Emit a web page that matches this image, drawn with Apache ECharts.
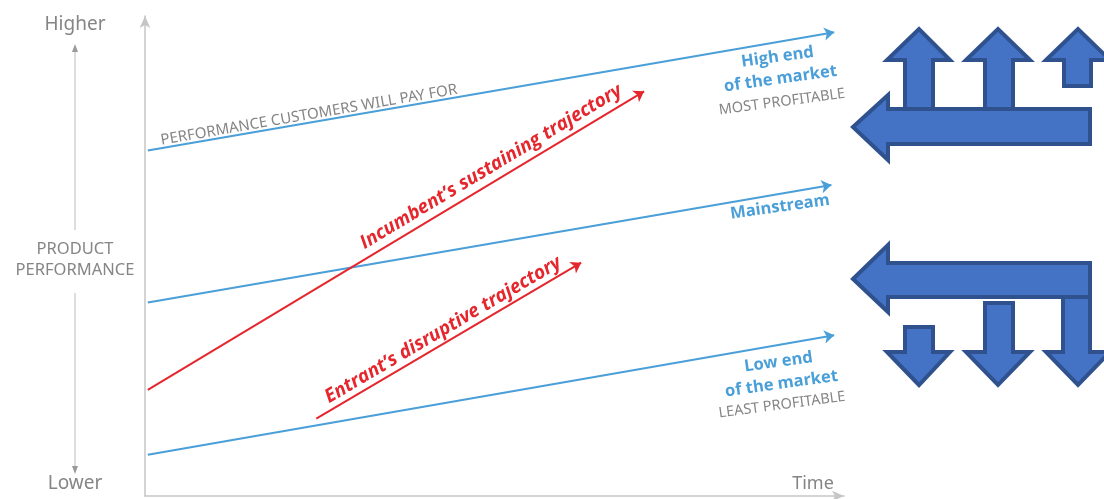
<!DOCTYPE html>
<html><head><meta charset="utf-8">
<script src="https://cdn.jsdelivr.net/npm/echarts@6/dist/echarts.min.js"></script>
<style>html,body{margin:0;padding:0;background:#fff}#c{width:1104px;height:499px}</style>
</head><body><div id="c"></div>
<script>
// Trajectories: [start x, start y, end x, end y] in chart units (0-100 time, 0-100 performance)
const blueNames = ['Performance customers will pay for', 'Mainstream', 'Low end'];
const blueStart = [[0.4, 72.0], [0.4, 40.3], [0.4, 8.6]];
const blueEnd   = [[98.6, 96.6], [98.2, 64.8], [98.6, 33.5]];
const redNames  = ['Incumbent sustaining', 'Entrant disruptive'];
const redStart  = [[0.4, 22.1], [24.5, 16.1]];
const redEnd    = [[71.4, 84.3], [62.4, 48.6]];

const BLUE = '#4a9fd8', RED = '#e5262c', GRAY = '#858585', AXIS = '#c6c6c6';
const FILL = '#4472c4', EDGE = '#2f528f';

function linesData(s, e, names) {
  return s.map((p, i) => ({ name: names[i], coords: [p, e[i]] }));
}
function txt(text, x, y, deg, font, color, lh) {
  return { type: 'text', x: x, y: y, rotation: deg * Math.PI / 180, z: 10,
    style: { text: text, x: 0, y: 0, font: font, fill: color, align: 'center', verticalAlign: 'middle', lineHeight: lh || 20 } };
}
function poly(pts, z) {
  return { type: 'polygon', z: z, shape: { points: pts },
    style: { fill: FILL, stroke: EDGE, lineWidth: 4, lineJoin: 'miter' } };
}

const chart = echarts.init(document.getElementById('c'));
const axisCommon = {
  type: 'value', min: 0, max: 100,
  axisLine: { show: true, onZero: false, symbol: ['none', 'arrow'], symbolSize: [8, 12],
              lineStyle: { color: AXIS, width: 1.5 } },
  axisTick: { show: false }, axisLabel: { show: false }, splitLine: { show: false }
};
chart.setOption({
  animation: false,
  backgroundColor: '#fff',
  grid: { left: 145, top: 16, width: 699, height: 480 },
  xAxis: axisCommon,
  yAxis: axisCommon,
  series: [
    { type: 'lines', coordinateSystem: 'cartesian2d', data: linesData(blueStart, blueEnd, blueNames),
      symbol: ['none', 'arrow'], symbolSize: 10, lineStyle: { color: BLUE, width: 2, opacity: 1 }, z: 3 },
    { type: 'lines', coordinateSystem: 'cartesian2d', data: linesData(redStart, redEnd, redNames),
      symbol: ['none', 'arrow'], symbolSize: 10, lineStyle: { color: RED, width: 2, opacity: 1 }, z: 4 }
  ],
  graphic: [
    // left guide
    txt('Higher', 75, 25, 0, '19px "Noto Sans"', GRAY),
    { type: 'line', shape: { x1: 75, y1: 50, x2: 75, y2: 230 }, style: { stroke: AXIS, lineWidth: 1.2 } },
    { type: 'polygon', shape: { points: [[72, 52], [78, 52], [75, 44]] }, style: { fill: '#9a9a9a' } },
    txt('PRODUCT\nPERFORMANCE', 75, 260, 0, '16.5px "Noto Sans"', GRAY, 21),
    { type: 'line', shape: { x1: 75, y1: 293, x2: 75, y2: 468 }, style: { stroke: AXIS, lineWidth: 1.2 } },
    { type: 'polygon', shape: { points: [[72, 466], [78, 466], [75, 474]] }, style: { fill: '#9a9a9a' } },
    txt('Lower', 75, 484, 0, '19px "Noto Sans"', GRAY),
    txt('Time', 813, 484, 0, '18px "Noto Sans"', GRAY),
    // line labels
    txt('PERFORMANCE CUSTOMERS WILL PAY FOR', 309, 115, 9.8, '15px "Noto Sans"', GRAY),
    txt('Incumbent\u2019s sustaining trajectory', 491, 167, 31, 'italic bold 19px "Open Sans"', RED),
    txt('Entrant\u2019s disruptive trajectory', 443, 330, 30.5, 'italic bold 19px "Open Sans"', RED),
    txt('High end\nof the market', 779, 68, 8, 'bold 16.5px "Open Sans"', BLUE, 22),
    txt('MOST PROFITABLE', 782, 102, 7.5, '14.5px "Noto Sans"', GRAY),
    txt('Mainstream', 780, 207, 8, 'bold 16.5px "Open Sans"', BLUE),
    txt('Low end\nof the market', 780, 373, 8, 'bold 16.5px "Open Sans"', BLUE, 22),
    txt('LEAST PROFITABLE', 782, 405, 7.5, '14.5px "Noto Sans"', GRAY),
    // upper block arrows
    poly([[905, 112], [905, 60], [887, 60], [919, 29], [950, 60], [933, 60], [933, 112]], 20),
    poly([[985, 112], [985, 60], [966, 60], [998, 29], [1030, 60], [1013, 60], [1013, 112]], 20),
    poly([[1064, 86], [1064, 60], [1046, 60], [1078, 29], [1110, 60], [1091, 60], [1091, 86]], 20),
    poly([[853, 127], [888, 95], [888, 109], [1090, 109], [1090, 144], [888, 144], [888, 160]], 21),
    // lower block arrows
    poly([[1063, 280], [1063, 352], [1046, 352], [1078, 385], [1110, 352], [1090, 352], [1090, 280]], 20),
    poly([[853, 279], [888, 245], [888, 263], [1090, 263], [1090, 297], [888, 297], [888, 312]], 21),
    poly([[905, 327], [933, 327], [933, 352], [950, 352], [919, 385], [887, 352], [905, 352]], 20),
    poly([[985, 303], [1013, 303], [1013, 352], [1030, 352], [998, 385], [966, 352], [985, 352]], 20)
  ]
});
</script></body></html>
